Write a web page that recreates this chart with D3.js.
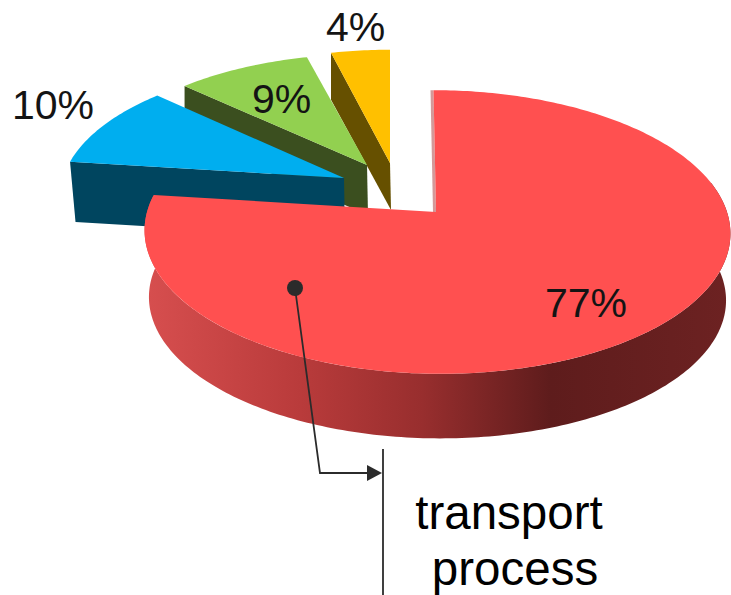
<!DOCTYPE html>
<html>
<head>
<meta charset="utf-8">
<script src="https://cdn.jsdelivr.net/npm/d3@7"></script>
<style>
  html, body { margin: 0; padding: 0; background: #fff; overflow: hidden; }
  svg { display: block; }
</style>
</head>
<body>
<div id="chart"></div>
<script>
// chart values, in pie order going clockwise from 12 o'clock
const categories = ["transport process", "other a", "other b", "other c"];
const shares = [77, 10, 9, 4];
const noteLines = ["transport", "process"];

const topColors = ["#ff5050", "#00aeef", "#92d050", "#ffc000"];
const sideColors = ["#6d2222", "#00455f", "#3b4f1f", "#665000"];

const width = 731;
const height = 595;

// tilted disc seen in perspective: near edge is bigger than far edge
const rx = 290;
const ry = 139;
const persp = 0.141;

// every slice is pulled out of the pie, so each has its own apex
const layout = [
  { ax: 436, ay: 212, scale: 1.00, depth: 67, bottomScale: 0.985, stretch: 1, shift: 1, tilt: 3.5 },
  { ax: 344, ay: 178, scale: 0.95, depth: 60, bottomScale: 0.98, stretch: 1.02, shift: 0, tilt: 0 },
  { ax: 367, ay: 165, scale: 0.91, depth: 50, bottomScale: 1, stretch: 1.04, shift: 0, tilt: 0 },
  { ax: 390, ay: 163, scale: 0.93, depth: 47, bottomScale: 1, stretch: 1, shift: 0, tilt: 0 }
];
const labelPos = [[545, 317], [12, 119], [252, 113], [326, 41]];

const svg = d3.select("#chart").append("svg")
  .attr("width", width)
  .attr("height", height)
  .attr("viewBox", [0, 0, width, height]);

const slices = d3.pie().sort(null)(shares);

function rimPoint(l, a, scale, dy) {
  const s = scale / (1 + persp * Math.cos(a));
  return [
    l.ax + l.shift - l.tilt * Math.cos(a) + rx * l.stretch * Math.sin(a) * s,
    l.ay + dy - ry * Math.cos(a) * s
  ];
}

function rimPoints(l, a0, a1, scale, dy) {
  const n = Math.max(8, Math.ceil(Math.abs(a1 - a0) * 60));
  return d3.range(n + 1).map(i => rimPoint(l, a0 + (a1 - a0) * i / n, scale, dy));
}

const closed = d3.line().curve(d3.curveLinearClosed);

// gradient round the front of the red wall
const grad = svg.append("defs").append("linearGradient")
  .attr("id", "redSide")
  .attr("gradientUnits", "userSpaceOnUse")
  .attr("x1", 149).attr("x2", 731).attr("y1", 0).attr("y2", 0);
[[0, "#d64e4e"], [0.26, "#b93b3b"], [0.47, "#982e2e"], [0.69, "#5e1c1c"], [1, "#6d2222"]]
  .forEach(d => grad.append("stop").attr("offset", d[0]).attr("stop-color", d[1]));

// far slices first, red one last
[3, 2, 1, 0].forEach(i => {
  const d = slices[i];
  const l = layout[i];
  const g = svg.append("g").attr("class", "slice").attr("data-name", categories[i]);

  if (i === 0) {
    const a0 = 1.35;
    g.append("path")
      .attr("d", closed(rimPoints(l, a0, d.endAngle, 1, 0)
        .concat(rimPoints(l, d.endAngle, a0, l.bottomScale, l.depth))))
      .attr("fill", "url(#redSide)");
    // the cut at 12 o'clock is seen almost edge on
    const p = rimPoint(l, 0, 1, 0);
    g.append("path")
      .attr("d", closed([[p[0] - 3, p[1]], [p[0], p[1]], [l.ax, l.ay], [l.ax - 3, l.ay]]))
      .attr("fill", "#b04545")
      .attr("opacity", 0.55);
  } else {
    const p = rimPoint(l, d.startAngle, l.scale, 0);
    const q = rimPoint(l, d.startAngle, l.scale * l.bottomScale, l.depth);
    g.append("path")
      .attr("d", closed([p, [l.ax, l.ay], [l.ax + 1, l.ay + l.depth], q]))
      .attr("fill", sideColors[i]);
  }

  g.append("path")
    .attr("d", closed([[l.ax, l.ay]].concat(rimPoints(l, d.startAngle, d.endAngle, l.scale, 0))))
    .attr("fill", topColors[i]);
});

// percent labels
svg.append("g").selectAll("text")
  .data(shares)
  .join("text")
  .attr("x", (d, i) => labelPos[i][0])
  .attr("y", (d, i) => labelPos[i][1])
  .attr("font-family", "'Liberation Sans', sans-serif")
  .attr("font-size", 41)
  .attr("fill", "#141414")
  .text(d => d + "%");

// leader from the red slice to the note
const ink = "#2b2b2b";
const note = svg.append("g");
note.append("path")
  .attr("d", d3.line()([[295, 288], [320, 473], [368, 473]]))
  .attr("fill", "none")
  .attr("stroke", ink)
  .attr("stroke-width", 1.8);
note.append("ellipse")
  .attr("cx", 295).attr("cy", 288)
  .attr("rx", 8).attr("ry", 8)
  .attr("fill", ink);
note.append("path")
  .attr("d", closed([[367, 465], [382, 473], [367, 481]]))
  .attr("fill", ink);
note.append("line")
  .attr("x1", 383).attr("x2", 383)
  .attr("y1", 449).attr("y2", height)
  .attr("stroke", ink)
  .attr("stroke-width", 1.8);

note.selectAll("text")
  .data(noteLines)
  .join("text")
  .attr("x", (d, i) => i === 0 ? 509 : 515)
  .attr("y", (d, i) => i === 0 ? 529 : 585)
  .attr("text-anchor", "middle")
  .attr("font-family", "'Liberation Sans', Arial, sans-serif")
  .attr("font-size", 47.5)
  .attr("fill", "#000")
  .text(d => d);
</script>
</body>
</html>
